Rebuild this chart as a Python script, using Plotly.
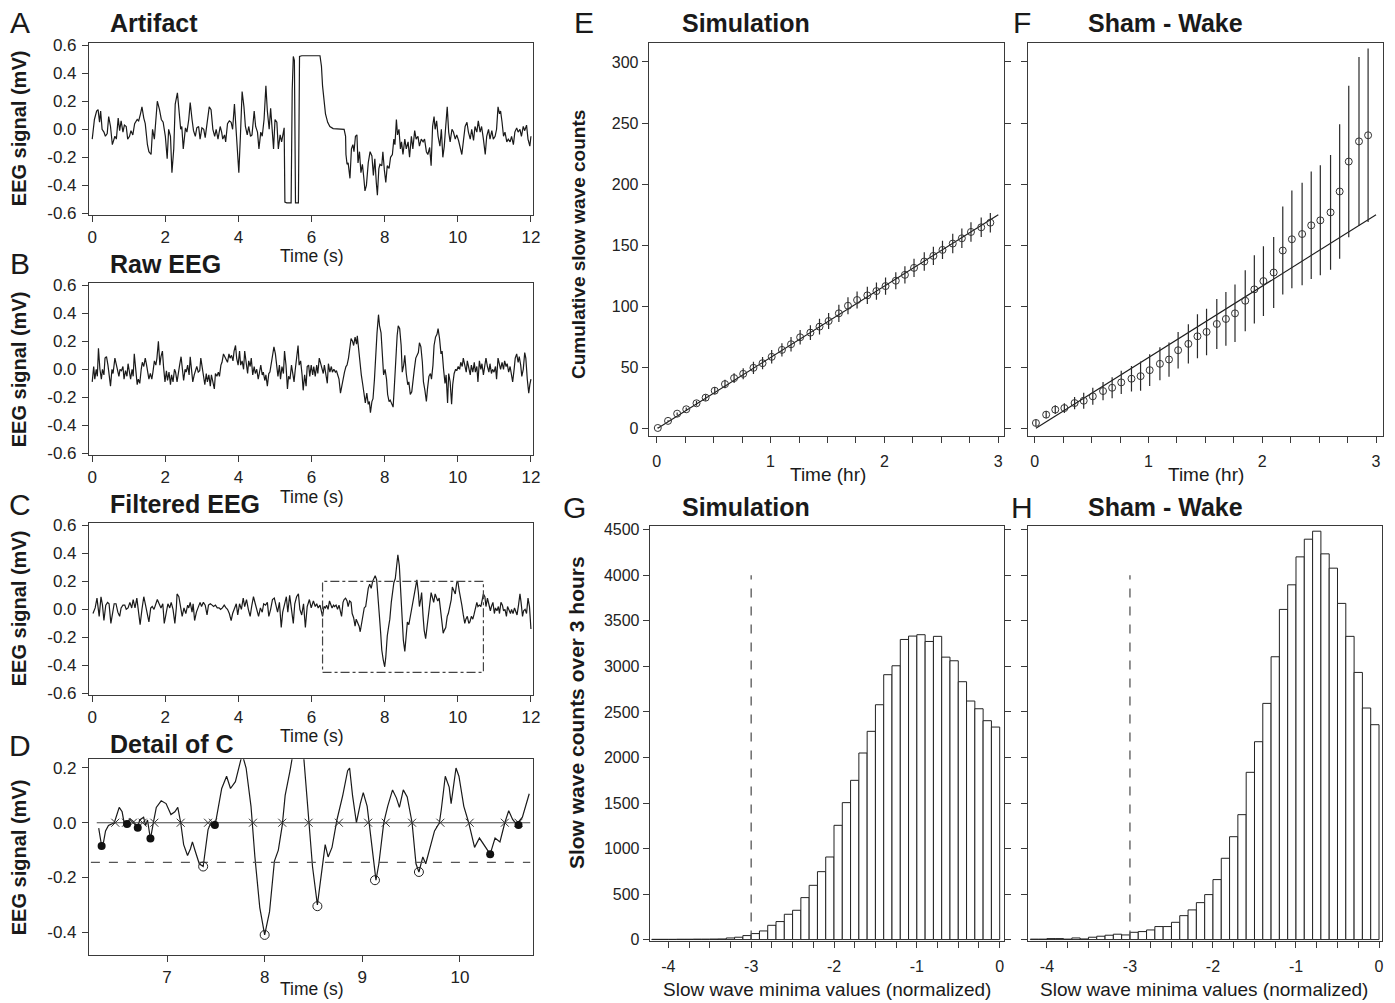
import plotly.graph_objects as go

# ---------------- DATA ----------------
# Panel A: artifact EEG trace (time s, mV)
trace_A = [(0.00,-0.07),(0.06,0.07),(0.12,0.13),(0.16,0.14),(0.20,0.05),(0.23,0.13),(0.27,0.00),(0.32,-0.02),(0.36,-0.05),(0.41,-0.03),
(0.45,0.09),(0.50,0.02),(0.55,-0.11),(0.62,-0.05),(0.66,-0.07),(0.71,0.08),(0.75,-0.01),(0.79,0.06),(0.84,-0.02),(0.88,0.03),
(0.93,0.02),(0.97,-0.07),(1.02,-0.05),(1.06,-0.01),(1.11,-0.04),(1.16,0.04),(1.23,0.07),(1.27,0.06),(1.32,0.11),(1.36,0.16),
(1.41,0.08),(1.45,0.04),(1.51,-0.11),(1.55,-0.16),(1.61,-0.18),(1.65,0.00),(1.70,-0.07),(1.75,0.08),(1.78,0.20),(1.84,0.14),
(1.89,0.07),(1.94,0.05),(2.00,-0.05),(2.05,-0.21),(2.09,0.00),(2.14,-0.05),(2.18,-0.31),(2.23,-0.14),(2.27,0.18),(2.33,0.26),
(2.37,0.14),(2.42,0.00),(2.45,0.02),(2.49,-0.14),(2.55,0.01),(2.59,-0.02),(2.64,0.07),(2.68,0.19),(2.73,0.07),(2.77,-0.01),
(2.82,-0.05),(2.86,0.01),(2.91,0.02),(2.95,-0.07),(3.00,0.01),(3.05,0.00),(3.09,-0.06),(3.15,0.07),(3.20,0.16),(3.25,0.14),
(3.30,0.00),(3.35,-0.05),(3.39,0.00),(3.44,-0.07),(3.50,0.02),(3.54,-0.02),(3.57,-0.07),(3.62,-0.04),(3.65,-0.09),(3.70,0.04),
(3.75,0.06),(3.80,0.05),(3.84,0.00),(3.89,0.18),(3.93,0.00),(3.97,-0.19),(4.01,-0.31),(4.05,-0.07),(4.10,0.27),(4.15,0.16),
(4.19,0.02),(4.24,-0.04),(4.28,0.02),(4.33,-0.05),(4.37,-0.04),(4.43,0.13),(4.47,0.02),(4.52,-0.02),(4.56,-0.14),(4.61,-0.02),
(4.65,-0.05),(4.70,0.07),(4.75,0.31),(4.79,0.13),(4.84,0.00),(4.88,0.15),(4.93,-0.07),(4.96,-0.14),(5.00,0.07),(5.05,0.05),
(5.09,-0.14),(5.14,-0.04),(5.18,-0.09),(5.22,-0.04),(5.25,0.01),(5.27,-0.52),(5.32,-0.525),(5.44,-0.525),(5.47,0.28),(5.50,0.52),
(5.53,0.49),(5.56,-0.525),(5.64,-0.525),(5.67,0.52),(5.73,0.525),(6.23,0.525),(6.27,0.45),(6.30,0.31),(6.34,0.19),(6.38,0.11),
(6.44,0.05),(6.50,0.02),(6.59,0.005),(6.77,0.0),(6.89,0.0),(6.93,-0.05),(6.94,-0.18),(6.97,-0.25),(7.00,-0.24),(7.05,-0.35),
(7.09,-0.14),(7.13,-0.11),(7.16,-0.16),(7.20,-0.05),(7.24,-0.04),(7.27,-0.24),(7.31,-0.16),(7.35,-0.31),(7.39,-0.25),(7.43,-0.35),
(7.46,-0.44),(7.50,-0.40),(7.55,-0.24),(7.60,-0.16),(7.65,-0.19),(7.69,-0.33),(7.73,-0.21),(7.77,-0.38),(7.80,-0.47),(7.84,-0.28),
(7.87,-0.25),(7.92,-0.26),(7.95,-0.16),(7.99,-0.29),(8.03,-0.38),(8.07,-0.26),(8.12,-0.28),(8.16,-0.20),(8.21,-0.18),(8.25,-0.07),
(8.28,-0.11),(8.32,0.07),(8.35,-0.04),(8.39,0.00),(8.43,-0.14),(8.46,-0.09),(8.50,-0.18),(8.55,-0.07),(8.59,-0.14),(8.64,-0.09),
(8.68,-0.20),(8.73,-0.05),(8.77,-0.14),(8.82,-0.01),(8.86,-0.07),(8.91,-0.05),(8.95,-0.12),(9.00,-0.07),(9.05,-0.09),(9.09,-0.07),
(9.14,-0.16),(9.18,-0.18),(9.23,-0.13),(9.27,-0.26),(9.31,0.02),(9.35,0.09),(9.38,0.00),(9.42,0.06),(9.46,-0.05),(9.51,-0.12),
(9.55,0.00),(9.59,-0.20),(9.63,-0.12),(9.66,-0.01),(9.71,0.16),(9.75,-0.02),(9.79,-0.09),(9.84,0.00),(9.88,-0.02),(9.93,-0.07),
(9.97,-0.04),(10.02,-0.08),(10.06,-0.12),(10.11,-0.18),(10.15,-0.09),(10.20,0.02),(10.25,0.05),(10.29,-0.02),(10.34,-0.07),(10.38,0.00),
(10.43,-0.08),(10.47,0.02),(10.52,-0.02),(10.56,0.06),(10.61,-0.02),(10.65,0.02),(10.70,-0.07),(10.75,-0.18),(10.79,-0.05),(10.84,0.00),
(10.88,-0.07),(10.93,-0.01),(10.97,-0.07),(11.02,-0.05),(11.06,0.00),(11.10,0.16),(11.14,0.11),(11.17,0.13),(11.21,0.05),(11.25,-0.05),
(11.29,-0.02),(11.34,-0.09),(11.38,-0.07),(11.43,-0.09),(11.47,-0.05),(11.52,-0.11),(11.56,-0.02),(11.61,0.01),(11.65,-0.02),(11.70,0.00),
(11.74,-0.05),(11.79,0.02),(11.83,-0.01),(11.88,0.03),(11.92,-0.07),(11.97,-0.12),(12.00,-0.05)]

# Panel B: raw EEG trace
trace_B = [(0.00,-0.09),(0.04,0.02),(0.07,-0.07),(0.11,0.00),(0.14,-0.05),(0.17,0.15),(0.21,0.00),(0.25,-0.07),(0.28,0.00),(0.32,-0.04),
(0.35,0.08),(0.39,0.09),(0.43,0.03),(0.46,-0.04),(0.50,-0.12),(0.54,0.00),(0.57,-0.03),(0.62,0.08),(0.65,0.04),(0.69,0.00),
(0.73,-0.05),(0.76,0.00),(0.80,-0.01),(0.84,0.02),(0.87,-0.07),(0.91,-0.01),(0.95,-0.05),(0.98,0.04),(1.02,-0.01),(1.05,-0.07),
(1.09,0.00),(1.12,-0.05),(1.15,0.11),(1.19,-0.02),(1.23,-0.11),(1.26,-0.07),(1.30,-0.10),(1.34,0.00),(1.37,0.05),(1.41,0.02),
(1.45,0.08),(1.48,0.04),(1.52,-0.02),(1.55,-0.07),(1.59,-0.03),(1.63,-0.07),(1.66,-0.02),(1.70,0.06),(1.74,0.03),(1.77,0.08),
(1.81,0.20),(1.85,0.03),(1.88,0.09),(1.92,0.13),(1.95,0.02),(1.99,-0.09),(2.03,-0.01),(2.06,-0.08),(2.10,-0.02),(2.14,-0.11),
(2.17,-0.04),(2.21,-0.09),(2.25,0.00),(2.28,-0.02),(2.32,-0.09),(2.35,-0.05),(2.39,0.03),(2.43,0.09),(2.46,-0.01),(2.50,-0.08),
(2.54,0.00),(2.57,-0.02),(2.61,0.03),(2.65,-0.04),(2.68,0.09),(2.72,0.00),(2.75,-0.09),(2.79,-0.04),(2.83,-0.01),(2.86,0.02),
(2.90,-0.02),(2.94,-0.01),(2.97,0.08),(3.01,0.02),(3.05,-0.07),(3.08,-0.11),(3.12,-0.03),(3.15,-0.09),(3.19,-0.04),(3.23,-0.12),
(3.26,-0.04),(3.30,-0.09),(3.34,-0.14),(3.37,-0.03),(3.41,-0.05),(3.45,-0.02),(3.48,-0.05),(3.52,0.03),(3.55,0.05),(3.59,0.11),
(3.63,0.09),(3.66,0.08),(3.70,0.05),(3.74,0.11),(3.77,0.08),(3.81,0.10),(3.85,0.06),(3.88,0.13),(3.92,0.17),(3.95,0.08),
(3.99,0.03),(4.03,0.13),(4.06,0.03),(4.10,0.06),(4.14,0.00),(4.17,0.13),(4.21,0.04),(4.25,-0.03),(4.28,0.06),(4.32,0.02),
(4.35,0.08),(4.39,-0.04),(4.43,0.02),(4.46,-0.03),(4.50,0.00),(4.54,-0.07),(4.57,-0.03),(4.61,0.03),(4.65,-0.04),(4.68,-0.02),
(4.72,-0.08),(4.75,-0.04),(4.79,-0.12),(4.83,-0.03),(4.86,-0.02),(4.90,0.04),(4.94,0.09),(4.97,0.16),(5.01,0.11),(5.05,0.03),
(5.08,-0.05),(5.12,0.03),(5.15,-0.07),(5.19,0.02),(5.23,-0.03),(5.26,0.13),(5.30,0.03),(5.34,-0.14),(5.37,-0.05),(5.41,-0.07),
(5.45,0.03),(5.48,-0.02),(5.52,-0.09),(5.55,-0.01),(5.59,0.11),(5.63,0.17),(5.66,0.03),(5.70,0.06),(5.74,-0.04),(5.77,-0.15),
(5.81,-0.04),(5.85,-0.12),(5.88,0.02),(5.92,0.03),
(5.95,-0.05),(5.99,0.03),(6.03,-0.04),(6.06,0.02),(6.10,-0.05),(6.14,0.03),(6.17,-0.03),(6.21,0.08),(6.25,0.04),(6.28,0.00),
(6.32,-0.03),(6.35,0.03),(6.39,-0.05),(6.43,-0.10),(6.46,0.04),(6.50,-0.02),(6.54,0.02),(6.57,-0.02),(6.61,0.00),(6.65,-0.02),
(6.68,-0.01),(6.72,-0.04),(6.75,-0.07),(6.79,-0.17),(6.83,-0.11),(6.86,-0.07),(6.90,-0.02),(6.94,0.02),(6.97,0.03),(7.01,0.08),
(7.05,0.15),(7.08,0.22),(7.12,0.20),(7.15,0.17),(7.19,0.23),(7.23,0.18),(7.25,0.24),(7.29,0.12),(7.33,0.03),(7.36,-0.04),
(7.40,-0.11),(7.44,-0.17),(7.47,-0.24),(7.51,-0.17),(7.55,-0.25),(7.58,-0.23),(7.61,-0.31),(7.65,-0.23),(7.68,-0.21),(7.72,-0.07),
(7.75,0.12),(7.79,0.26),(7.83,0.39),(7.86,0.31),(7.90,0.26),(7.94,0.10),(7.97,-0.04),(8.01,0.00),(8.05,-0.07),(8.08,-0.18),
(8.12,-0.23),(8.15,-0.22),(8.19,-0.25),(8.23,-0.27),(8.26,-0.14),(8.30,0.10),(8.34,0.24),(8.37,0.31),(8.41,0.29),(8.45,0.17),
(8.48,-0.02),(8.52,0.03),(8.55,0.10),(8.59,-0.03),(8.63,-0.11),(8.66,-0.09),(8.70,-0.18),(8.74,-0.16),(8.77,-0.07),(8.81,0.00),
(8.85,0.08),(8.88,0.10),(8.92,0.12),(8.95,0.19),(8.99,0.16),(9.03,0.05),(9.06,-0.09),(9.10,-0.15),(9.14,-0.23),(9.17,-0.14),
(9.21,-0.05),(9.25,-0.03),(9.28,-0.07),(9.32,0.03),(9.35,0.17),(9.39,0.23),(9.43,0.25),(9.46,0.29),(9.50,0.22),(9.54,0.11),
(9.57,0.13),(9.61,0.00),(9.65,-0.10),(9.68,-0.04),(9.72,-0.24),(9.75,-0.03),(9.79,-0.09),(9.83,-0.25),(9.86,-0.11),(9.90,-0.03),
(9.94,0.00),(9.97,-0.01),(10.01,0.02),(10.05,0.00),(10.08,0.05),(10.12,0.02),(10.15,0.08),(10.19,0.03),(10.23,-0.02),(10.26,0.06),
(10.30,0.00),(10.34,-0.04),(10.37,0.03),(10.41,-0.02),(10.45,0.05),(10.48,-0.02),(10.52,0.02),(10.55,-0.09),(10.59,0.06),(10.63,0.00),
(10.66,0.04),(10.70,-0.04),(10.74,0.03),(10.77,0.08),(10.81,0.02),(10.85,-0.02),(10.88,0.04),(10.92,-0.03),(10.95,0.00),(10.99,-0.02),
(11.03,0.02),(11.06,-0.07),(11.10,0.08),(11.14,0.04),(11.17,0.00),(11.21,0.05),(11.25,0.00),(11.28,0.06),(11.32,0.02),(11.35,0.04),
(11.39,-0.02),(11.43,0.02),(11.46,-0.04),(11.50,-0.09),(11.54,0.00),(11.57,0.08),(11.61,0.11),(11.65,0.05),(11.68,0.09),(11.72,0.03),
(11.75,-0.05),(11.79,0.00),(11.83,0.12),(11.86,0.08),(11.90,-0.07),(11.94,-0.17),(11.97,-0.11),(12.00,-0.07)]

# Panel C: filtered EEG trace
trace_C = [(0.02,-0.03),(0.08,0.01),(0.13,0.08),(0.19,-0.05),(0.24,0.09),(0.28,0.03),(0.32,-0.08),(0.37,0.03),(0.42,0.05),(0.46,0.04),
(0.51,-0.10),(0.56,-0.02),(0.60,0.04),(0.65,0.04),(0.70,-0.02),(0.75,-0.05),(0.79,0.01),(0.84,0.03),(0.89,0.03),(0.93,0.00),
(0.98,0.01),(1.03,0.05),(1.08,0.01),(1.12,0.07),(1.17,0.01),(1.22,0.08),(1.27,-0.03),(1.31,-0.11),(1.36,0.00),(1.41,0.09),
(1.45,0.04),(1.50,-0.03),(1.55,-0.09),(1.60,0.01),(1.64,0.02),(1.69,0.00),(1.74,0.05),(1.78,0.07),(1.83,0.04),(1.88,0.01),
(1.93,0.04),(1.97,-0.10),(2.02,-0.03),(2.07,0.04),(2.12,0.01),(2.16,0.05),(2.21,0.00),(2.26,-0.10),(2.30,0.01),(2.32,0.11),
(2.37,0.09),(2.42,0.01),(2.46,-0.05),(2.51,0.01),(2.56,-0.03),(2.61,0.03),(2.64,0.01),(2.68,0.05),(2.73,-0.02),(2.76,0.04),
(2.80,-0.08),(2.85,-0.02),(2.90,0.02),(2.95,0.05),(2.99,0.02),(3.04,0.05),(3.09,0.03),(3.14,-0.04),(3.18,0.03),(3.23,0.04),
(3.28,0.03),(3.32,0.02),(3.37,0.03),(3.42,0.01),(3.47,0.01),(3.51,0.00),(3.56,0.01),(3.61,0.03),(3.66,0.01),(3.70,0.00),
(3.75,-0.03),(3.80,-0.08),(3.84,-0.03),(3.89,0.01),(3.94,0.04),(3.98,-0.04),(4.03,0.04),(4.08,0.00),(4.13,0.08),(4.17,0.02),
(4.22,0.07),(4.27,0.00),(4.32,-0.05),(4.36,0.02),(4.41,0.09),(4.46,0.04),(4.50,0.00),(4.55,-0.05),(4.60,0.01),(4.65,-0.02),
(4.69,0.04),(4.74,0.03),(4.79,0.05),(4.83,-0.05),(4.88,0.00),(4.93,0.07),(4.98,0.08),(5.02,0.03),(5.07,-0.02),(5.12,0.05),
(5.17,-0.13),(5.21,-0.02),(5.26,0.04),(5.31,0.09),(5.35,-0.02),(5.40,0.10),(5.45,0.00),(5.50,-0.10),(5.54,0.04),(5.59,0.09),
(5.64,0.11),(5.68,0.00),(5.73,-0.04),(5.78,0.04),(5.83,-0.13),(5.88,0.02),(5.94,0.07),(5.99,0.01),
(6.05,0.06),(6.10,0.02),(6.14,0.04),(6.18,0.01),(6.23,0.03),(6.27,-0.01),(6.30,-0.05),(6.34,0.02),(6.38,0.01),(6.41,0.03),
(6.45,0.00),(6.49,0.06),(6.52,0.03),(6.56,0.01),(6.60,0.03),(6.63,0.02),(6.67,0.03),(6.71,0.00),(6.75,0.03),(6.78,-0.01),
(6.82,-0.05),(6.86,0.05),(6.89,0.07),(6.93,0.08),(6.97,0.06),(7.00,0.02),(7.04,0.06),(7.08,0.05),(7.11,-0.03),(7.15,-0.06),
(7.19,-0.12),(7.22,-0.07),(7.26,-0.10),(7.30,-0.12),(7.33,-0.16),(7.37,-0.09),(7.41,-0.01),(7.44,0.01),(7.48,0.02),(7.52,0.09),
(7.55,0.15),(7.59,0.18),(7.63,0.15),(7.67,0.20),(7.70,0.22),(7.74,0.24),(7.78,0.21),(7.81,0.13),(7.85,-0.03),(7.89,-0.17),
(7.92,-0.29),(7.96,-0.36),(8.00,-0.41),(8.03,-0.34),(8.07,-0.19),(8.11,-0.12),(8.14,-0.07),(8.18,0.05),(8.22,0.16),(8.25,0.19),
(8.29,0.22),(8.33,0.33),(8.36,0.39),(8.40,0.31),(8.44,0.12),(8.47,-0.05),(8.51,-0.22),(8.55,-0.30),(8.58,-0.19),(8.62,-0.09),
(8.66,-0.11),(8.70,-0.05),(8.73,0.00),(8.77,0.06),(8.81,0.12),(8.84,0.16),(8.88,0.21),(8.92,0.12),(8.95,0.02),(8.99,0.08),
(9.01,0.12),(9.05,-0.05),(9.08,-0.15),(9.12,-0.21),(9.16,-0.12),(9.19,-0.03),(9.23,0.03),(9.27,0.12),(9.30,0.09),(9.34,0.05),
(9.38,0.11),(9.41,0.09),(9.45,0.06),(9.49,0.08),(9.52,0.01),(9.56,-0.10),(9.60,-0.17),(9.63,-0.15),(9.67,-0.13),(9.71,-0.05),
(9.74,-0.03),(9.78,0.02),(9.82,0.07),(9.85,0.16),(9.89,0.14),(9.93,0.11),(9.97,0.19),(10.00,0.20),(10.04,0.13),(10.08,0.05),
(10.11,0.03),(10.15,-0.04),(10.19,-0.10),(10.22,-0.07),(10.26,-0.05),(10.30,-0.10),(10.33,-0.09),(10.37,-0.05),(10.41,-0.07),(10.44,-0.04),
(10.48,0.02),(10.52,0.05),(10.55,0.02),(10.59,0.03),(10.63,0.02),(10.66,0.06),(10.70,0.11),(10.74,0.09),(10.77,0.02),(10.81,0.08),
(10.85,0.02),(10.89,-0.01),(10.92,0.02),(10.96,0.05),(11.00,-0.03),(11.03,0.01),(11.07,-0.01),(11.11,0.02),(11.14,-0.03),(11.18,0.05),
(11.22,0.03),(11.25,-0.01),(11.29,0.00),(11.33,-0.05),(11.36,0.02),(11.40,-0.01),(11.44,-0.03),(11.47,0.00),(11.51,-0.03),(11.55,0.01),
(11.58,-0.01),(11.62,-0.04),(11.66,0.03),(11.70,0.11),(11.73,0.05),(11.77,-0.05),(11.80,-0.01),(11.84,0.00),(11.88,-0.03),(11.92,0.08),
(11.96,0.02),(12.00,-0.14)]
box_C = [6.3, 10.7, -0.45, 0.2]   # x0, x1, y0, y1 of the detail window

# Panel D: detail of C
trace_D = [(6.30,-0.02),(6.33,-0.085),(6.35,-0.07),(6.37,-0.03),(6.40,-0.01),(6.46,0.0),(6.51,0.056),(6.54,0.04),(6.56,0.0),(6.59,-0.005),
(6.62,0.015),(6.65,0.006),(6.70,-0.015),(6.72,0.01),(6.76,0.02),(6.78,-0.01),(6.80,0.01),(6.83,-0.06),(6.86,0.0),(6.89,0.056),
(6.94,0.08),(6.99,0.07),(7.04,0.03),(7.08,0.04),(7.11,0.056),(7.14,0.0),(7.17,-0.08),(7.21,-0.12),(7.24,-0.095),(7.26,-0.07),
(7.29,-0.105),(7.33,-0.15),(7.37,-0.16),(7.39,-0.11),(7.42,-0.025),(7.45,0.0),(7.48,-0.01),(7.50,0.006),(7.53,0.06),(7.56,0.125),
(7.61,0.17),(7.65,0.125),(7.70,0.15),(7.74,0.2),(7.77,0.25),(7.81,0.2),(7.86,0.06),(7.90,-0.125),(7.95,-0.31),(8.00,-0.41),
(8.05,-0.325),(8.10,-0.14),(8.14,-0.1),(8.18,-0.01),(8.21,0.1),(8.26,0.19),(8.30,0.26),(8.35,0.38),(8.38,0.33),(8.41,0.2),
(8.45,0.0),(8.49,-0.16),(8.54,-0.3),(8.57,-0.21),(8.62,-0.08),(8.65,-0.125),(8.69,-0.09),(8.74,0.01),(8.80,0.1),(8.85,0.19),
(8.87,0.2),(8.90,0.1),(8.94,0.0),(8.98,0.07),(9.01,0.11),(9.05,0.06),(9.07,0.0),(9.10,-0.1),(9.14,-0.21),(9.17,-0.15),
(9.22,0.0),(9.26,0.06),(9.31,0.12),(9.35,0.09),(9.38,0.056),(9.42,0.12),(9.46,0.094),(9.51,0.0),(9.55,-0.15),(9.58,-0.18),
(9.62,-0.125),(9.65,-0.15),(9.69,-0.1),(9.74,-0.03),(9.79,0.0),(9.81,0.05),(9.85,0.17),(9.89,0.13),(9.91,0.07),(9.96,0.2),
(9.99,0.17),(10.04,0.06),(10.09,0.0),(10.15,-0.09),(10.20,-0.056),(10.26,-0.09),(10.31,-0.115),(10.36,-0.056),(10.41,-0.07),(10.46,0.0),
(10.50,0.044),(10.54,0.012),(10.58,-0.006),(10.64,0.02),(10.71,0.106)]
D_filled_t = [6.33, 6.59, 6.70, 6.83, 7.49, 10.31, 10.60]
D_filled_v = [-0.085, -0.005, -0.018, -0.058, -0.008, -0.115, -0.008]
D_open_t = [7.37, 8.00, 8.54, 9.13, 9.58]
D_open_v = [-0.16, -0.41, -0.305, -0.21, -0.18]
D_cross_t = [6.47, 6.58, 6.65, 6.75, 6.87, 7.14, 7.42, 7.47, 7.88, 8.18, 8.45, 8.76, 9.06, 9.24, 9.51, 9.80, 10.10, 10.46, 10.60]
D_zero_x = [6.28, 10.72]
D_thresh_x = [6.22, 10.72]
D_threshold = -0.145

# Panels E/F: cumulative slow wave counts
times_hr = [0.01,0.10,0.18,0.26,0.35,0.43,0.51,0.60,0.68,0.76,0.85,0.93,1.01,1.10,1.18,1.26,1.35,1.43,
            1.51,1.60,1.68,1.76,1.85,1.93,2.01,2.10,2.18,2.26,2.35,2.43,2.51,2.60,2.68,2.76,2.85,2.93]
E_mean = [0.5,6.3,12.2,15.8,20.7,25.3,31.0,36.4,41.3,44.8,49.7,53.5,58.7,64.4,69.0,74.7,78.5,83.4,
          88.0,94.3,100.5,105.2,109.0,112.5,116.6,121.0,125.8,131.5,136.7,141.3,146.2,151.4,155.7,160.9,164.7,168.5]
E_err = [0.3,0.5,1.0,1.5,2.0,2.5,3.0,3.5,4.0,4.5,5.0,5.0,5.5,5.5,6.0,6.0,6.0,6.5,
         6.5,7.0,7.0,7.0,7.0,7.0,7.0,7.0,7.0,7.5,7.5,7.5,7.5,8.0,8.0,8.0,8.0,8.0]
F_mean = [4.6,11.4,15.5,16.8,20.9,22.8,26.4,30.7,33.4,37.8,40.8,42.9,47.8,53.0,56.5,64.1,69.3,75.5,
          79.1,85.6,89.7,94.3,104.6,113.9,120.7,127.7,145.7,154.9,159.2,166.3,170.4,176.9,194.0,218.5,235.0,240.0]
F_err = [2.5,3,3.5,4,5,6.5,7,7.5,8.5,9.5,10.5,12,13,13.5,14,15,16,18,
         19,20.5,22,23.5,25,28,28.5,29,36,40,42,44,45,47,55,62,69,71]
fit_x = [0.01, 3.0]
fit_y = [0.3, 175.0]

# Panels G/H: histograms of slow wave minima (bins of 0.1)
bin_centers = [-4.15,-4.05,-3.95,-3.85,-3.75,-3.65,-3.55,-3.45,-3.35,-3.25,-3.15,-3.05,-2.95,-2.85,
               -2.75,-2.65,-2.55,-2.45,-2.35,-2.25,-2.15,-2.05,-1.95,-1.85,-1.75,-1.65,-1.55,-1.45,
               -1.35,-1.25,-1.15,-1.05,-0.95,-0.85,-0.75,-0.65,-0.55,-0.45,-0.35,-0.25,-0.15,-0.05]
G_counts = [3,3,3,4,4,5,5,6,7,18,26,44,66,95,157,198,278,322,461,596,746,907,1255,1504,1749,2049,2287,2579,
            2909,3007,3296,3333,3348,3274,3330,3102,3062,2832,2620,2535,2404,2334]
H_counts = [5,5,11,11,5,18,7,26,37,48,59,51,80,88,106,143,143,190,263,326,406,494,659,893,1130,1372,1837,2173,
            2594,3106,3626,3896,4203,4397,4485,4236,4079,3692,3330,2934,2543,2360]
cutoff_x = [-3, -3]
cutoff_y = [0, 4000]

# tick labels
eeg_ticks = [-0.6, -0.4, -0.2, 0.0, 0.2, 0.4, 0.6]
eeg_ticktext = ["-0.6", "-0.4", "-0.2", "0.0", "0.2", "0.4", "0.6"]
time_ticks = [0, 2, 4, 6, 8, 10, 12]
D_yticks = [-0.4, -0.2, 0.0, 0.2]
D_yticktext = ["-0.4", "-0.2", "0.0", "0.2"]
D_xticks = [7, 8, 9, 10]
hr_ticks = [0, 0.25, 0.5, 0.75, 1, 1.25, 1.5, 1.75, 2, 2.25, 2.5, 2.75, 3]
hr_ticktext = ["0", "", "", "", "1", "", "", "", "2", "", "", "", "3"]
count_ticks = [0, 50, 100, 150, 200, 250, 300]
hist_xticks = [-4, -3.75, -3.5, -3.25, -3, -2.75, -2.5, -2.25, -2, -1.75, -1.5, -1.25, -1, -0.75, -0.5, -0.25, 0]
hist_xticktext = ["-4", "", "", "", "-3", "", "", "", "-2", "", "", "", "-1", "", "", "", "0"]
hist_yticks = [0, 500, 1000, 1500, 2000, 2500, 3000, 3500, 4000, 4500]

# ---------------- FIGURE ----------------
W, H = 1395, 1003
FONT = "Liberation Sans, Arial, Helvetica, sans-serif"
INK = "#1a1a1a"
FRAME = "#3a3a3a"
MK = "#333333"

# small global correction of the layout grid (pixel positions measured on the reference)
SX, OX = 1.0062, -0.6
SY, OY = 1.0111, -6.8


def PX(x):
    return SX * x + OX


def PY(y):
    return SY * y + OY


def xd(a, b):
    return [max(0.0, PX(a) / W), min(1.0, PX(b) / W)]


def yd(top, bottom):
    return [max(0.0, 1 - PY(bottom) / H), min(1.0, 1 - PY(top) / H)]


fig = go.Figure()


def add_line(pairs, n):
    fig.add_trace(go.Scatter(x=[p[0] for p in pairs], y=[p[1] for p in pairs], mode="lines",
                             line=dict(color=INK, width=1.2), xaxis="x%d" % n, yaxis="y%d" % n,
                             showlegend=False, hoverinfo="skip"))


add_line(trace_A, 1)
add_line(trace_B, 2)
add_line(trace_C, 3)
add_line(trace_D, 4)

# D reference lines and markers
fig.add_trace(go.Scatter(x=D_zero_x, y=[0, 0], mode="lines", line=dict(color="#444", width=1.2),
                         xaxis="x4", yaxis="y4", showlegend=False, hoverinfo="skip"))
fig.add_trace(go.Scatter(x=D_thresh_x, y=[D_threshold, D_threshold], mode="lines",
                         line=dict(color="#555", width=1.3, dash="dash"),
                         xaxis="x4", yaxis="y4", showlegend=False, hoverinfo="skip"))
fig.add_trace(go.Scatter(x=D_cross_t, y=[0] * len(D_cross_t), mode="markers",
                         marker=dict(symbol="x-thin", size=8, color=MK, line=dict(color=MK, width=1)),
                         xaxis="x4", yaxis="y4", showlegend=False, hoverinfo="skip"))
fig.add_trace(go.Scatter(x=D_filled_t, y=D_filled_v, mode="markers",
                         marker=dict(symbol="circle", size=8, color="#111"),
                         xaxis="x4", yaxis="y4", showlegend=False, hoverinfo="skip"))
fig.add_trace(go.Scatter(x=D_open_t, y=D_open_v, mode="markers",
                         marker=dict(symbol="circle-open", size=9, color="#222", line=dict(color="#222", width=1)),
                         xaxis="x4", yaxis="y4", showlegend=False, hoverinfo="skip"))

# E/F
for n, mean, err in [(5, E_mean, E_err), (6, F_mean, F_err)]:
    fig.add_trace(go.Scatter(x=fit_x, y=fit_y, mode="lines", line=dict(color=INK, width=1.1),
                             xaxis="x%d" % n, yaxis="y%d" % n, showlegend=False, hoverinfo="skip"))
    fig.add_trace(go.Scatter(x=times_hr, y=mean, mode="markers",
                             marker=dict(symbol="circle-open", size=7, color=MK, line=dict(color=MK, width=1)),
                             error_y=dict(type="data", array=err, width=0, thickness=1.2, color="#2a2a2a"),
                             xaxis="x%d" % n, yaxis="y%d" % n, showlegend=False, hoverinfo="skip"))

# G/H
for n, counts in [(7, G_counts), (8, H_counts)]:
    fig.add_trace(go.Bar(x=bin_centers, y=counts, width=0.1,
                         marker=dict(color="white", line=dict(color="#222", width=1)),
                         xaxis="x%d" % n, yaxis="y%d" % n, showlegend=False, hoverinfo="skip"))
    fig.add_trace(go.Scatter(x=cutoff_x, y=cutoff_y, mode="lines",
                             line=dict(color="#555", width=1.3, dash="dash"),
                             xaxis="x%d" % n, yaxis="y%d" % n, showlegend=False, hoverinfo="skip"))


def axis(dom, rng, anchor, tickvals, ticktext=None, showlabels=True, mirror=True, standoff=None, size=16):
    d = dict(domain=dom, range=rng, anchor=anchor, showgrid=False, zeroline=False,
             showline=True, linecolor=FRAME, linewidth=1, mirror=mirror,
             ticks="outside", ticklen=6, tickwidth=1, tickcolor=FRAME,
             tickvals=tickvals, showticklabels=showlabels,
             tickfont=dict(family=FONT, size=size, color="#222"), fixedrange=True)
    if ticktext is not None:
        d["ticktext"] = ticktext
    if standoff is not None:
        d["ticklabelstandoff"] = standoff
    return d


layout = dict(width=W, height=H, margin=dict(l=0, r=0, t=0, b=0), autosize=False,
              paper_bgcolor="white", plot_bgcolor="white", font=dict(family=FONT, color="#222"),
              showlegend=False, barmode="overlay")

left_x = xd(88.5, 532.5)
eeg_range = [-0.615, 0.615]
time_range = [-0.09, 12.06]
panels_left = [(1, 43, 216), (2, 284, 457), (3, 525, 698)]
for n, top, bot in panels_left:
    sfx = "" if n == 1 else str(n)
    layout["xaxis" + sfx] = axis(left_x, time_range, "y" + str(n), time_ticks, standoff=0, size=17)
    layout["yaxis" + sfx] = axis(yd(top, bot), eeg_range, "x" + str(n), eeg_ticks, eeg_ticktext, standoff=2, size=17)

layout["xaxis4"] = axis(left_x, [6.2, 10.75], "y4", D_xticks, standoff=0, size=17)
layout["yaxis4"] = axis(yd(762, 959), [-0.485, 0.232], "x4", D_yticks, D_yticktext, standoff=2, size=17)

layout["xaxis5"] = axis(xd(648, 1003.5), [-0.07, 3.053], "y5", hr_ticks, hr_ticktext, standoff=5)
layout["yaxis5"] = axis(yd(43, 437), [-5.7, 315.4], "x5", count_ticks, mirror="ticks")
layout["xaxis6"] = axis(xd(1027, 1382), [-0.061, 3.061], "y6", hr_ticks, hr_ticktext, standoff=5)
layout["yaxis6"] = axis(yd(43, 437), [-5.7, 315.4], "x6", count_ticks, showlabels=False)

layout["xaxis7"] = axis(xd(649, 1003), [-4.225, 0.05], "y7", hist_xticks, hist_xticktext, standoff=5)
layout["yaxis7"] = axis(yd(528, 944), [-10, 4540], "x7", hist_yticks, mirror="ticks")
layout["xaxis8"] = axis(xd(1027, 1381), [-4.23, 0.036], "y8", hist_xticks, hist_xticktext, standoff=5)
layout["yaxis8"] = axis(yd(528, 944), [-10, 4540], "x8", hist_yticks, showlabels=False)

fig.update_layout(**layout)

# C detail window
fig.add_shape(type="rect", xref="x3", yref="y3", x0=box_C[0], x1=box_C[1], y0=box_C[2], y1=box_C[3],
              line=dict(color="#444", width=1.2, dash="dashdot"), fillcolor="rgba(0,0,0,0)")


def note(text, x, y, size, bold=False, angle=0, xanchor="center"):
    fig.add_annotation(text=("<b>%s</b>" % text) if bold else text, x=PX(x) / W, y=1 - PY(y) / H,
                       xref="paper", yref="paper", showarrow=False, textangle=angle,
                       xanchor=xanchor, yanchor="middle",
                       font=dict(family=FONT, size=size, color="#1a1a1a"))


letters = [("A", 20, 22), ("B", 20, 264), ("C", 20, 506), ("D", 20, 748),
           ("E", 583, 22), ("F", 1021, 22), ("G", 574, 509), ("H", 1021, 509)]
for t, x, y in letters:
    note(t, x, y, 30)

titles = [("Artifact", 108, 23), ("Raw EEG", 108, 265), ("Filtered EEG", 108, 506), ("Detail of C", 108, 747),
          ("Simulation", 679, 23), ("Sham - Wake", 1085, 23), ("Simulation", 679, 509), ("Sham - Wake", 1085, 509)]
for t, x, y in titles:
    note(t, x, y, 25, bold=True, xanchor="left")

for yc in [257, 499, 739, 993]:
    note("Time (s)", 311, yc, 17.5)
for yc in [128, 370, 610, 860]:
    note("EEG signal (mV)", 18, yc, 20, bold=True, angle=-90)

note("Cumulative slow wave counts", 578, 245, 19, bold=True, angle=-90)
note("Slow wave counts over 3 hours", 576, 715, 21, bold=True, angle=-90)
note("Time (hr)", 827, 476, 19)
note("Time (hr)", 1205, 476, 19)
note("Slow wave minima values (normalized)", 826, 993, 19)
note("Slow wave minima values (normalized)", 1203, 993, 19)

fig.write_html("out.html", config={"displayModeBar": False},
               post_script="document.body.style.margin='0';document.body.style.padding='0';"
                           "document.body.style.overflow='hidden';")
